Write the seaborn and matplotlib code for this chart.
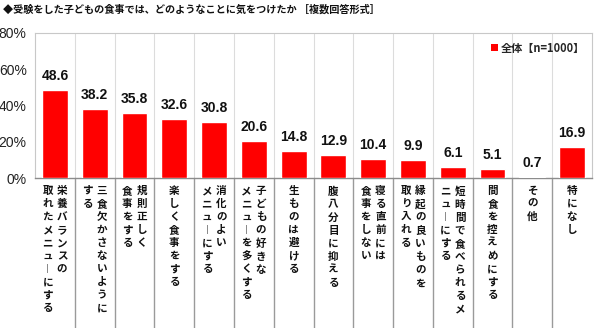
import matplotlib
matplotlib.use("Agg")
import matplotlib.pyplot as plt
import matplotlib.transforms as mtransforms
from matplotlib.patches import Patch
import pandas as pd
import seaborn as sns

title = "◆受験をした子どもの食事では、どのようなことに気をつけたか ［複数回答形式］"
series_name = "全体【n=1000】"
values = [48.6, 38.2, 35.8, 32.6, 30.8, 20.6, 14.8, 12.9, 10.4, 9.9, 6.1, 5.1, 0.7, 16.9]
# category labels, written vertically; columns are read right to left
categories = [
    ["栄養バランスの", "取れたメニューにする"],
    ["三食欠かさないように", "する"],
    ["規則正しく", "食事をする"],
    ["楽しく食事をする"],
    ["消化のよい", "メニューにする"],
    ["子どもの好きな", "メニューを多くする"],
    ["生ものは避ける"],
    ["腹八分目に抑える"],
    ["寝る直前には", "食事をしない"],
    ["縁起の良いものを", "取り入れる"],
    ["短時間で食べられるメ", "ニューにする"],
    ["間食を控えめにする"],
    ["その他"],
    ["特になし"],
]
y_ticks = [0, 20, 40, 60, 80]
y_tick_labels = ["0%", "20%", "40%", "60%", "80%"]

RED = "#FF0000"
JP = ["Noto Sans CJK JP", "DejaVu Sans"]
NUM = ["Liberation Sans", "DejaVu Sans"]

sns.set_theme(style="white")
plt.rcParams["font.family"] = JP

names = ["".join(c) for c in categories]
df = pd.DataFrame({"item": names, "value": values})

fig = plt.figure(figsize=(6.0, 3.28), dpi=100)
ax = fig.add_axes([35 / 600, 1 - 178 / 328, 557 / 600, 145 / 328])

sns.barplot(data=df, x="item", y="value", order=names, color=RED,
            saturation=1, width=0.65, ax=ax, zorder=3)

n = len(names)
ax.set_xlim(-0.5, n - 0.5)
ax.set_ylim(0, 80)
ax.set_yticks(y_ticks)
ax.set_yticklabels(y_tick_labels, family=NUM, fontsize=10, color="#222222")
ax.tick_params(axis="y", length=0, pad=6)
ax.set_xticks([])
ax.set_xlabel("")
ax.set_ylabel("")

# vertical separators between categories inside the plot
for b in range(n - 1):
    ax.axvline(b + 0.5, color="#dcdcdc", lw=0.8, zorder=1)

for side in ["left", "top", "right"]:
    ax.spines[side].set_color("#c8c8c8")
    ax.spines[side].set_linewidth(0.8)
ax.spines["bottom"].set_color("#8c8c8c")
ax.spines["bottom"].set_linewidth(1.0)

# value labels
for i, v in enumerate(values):
    ax.annotate(f"{v:.1f}", xy=(i, v), xytext=(0, 7), textcoords="offset pixels",
                ha="center", va="bottom", family=NUM, fontsize=10,
                fontweight="bold", color="#111111")

# separators below the axis and vertical category text
below = mtransforms.blended_transform_factory(ax.transData, ax.transAxes)
for b in range(n - 1):
    ax.plot([b + 0.5, b + 0.5], [0, -1.2], transform=below, clip_on=False,
            color="#9a9a9a", lw=1.0)


def vertical(s):
    return "\n".join("︱" if ch == "ー" else ch for ch in s)


col_gap = 0.18
for i, cols in enumerate(categories):
    k = len(cols)
    for j, col in enumerate(cols):
        dx = ((k - 1) / 2 - j) * 2 * col_gap
        ax.annotate(vertical(col), xy=(i + dx, 0), xycoords=below,
                    xytext=(0, -8), textcoords="offset pixels",
                    ha="center", va="top", fontsize=7.6, fontweight="bold",
                    linespacing=1.38, color="#111111", annotation_clip=False)

# legend
handle = Patch(facecolor=RED, edgecolor="none")
leg = ax.legend([handle], [series_name], loc="upper right",
                bbox_to_anchor=(1.0, 0.985), frameon=False,
                handlelength=0.6, handleheight=0.6, handletextpad=0.3,
                borderaxespad=0.2, prop={"family": JP, "size": 8, "weight": "bold"})

fig.text(3 / 600, 1 - 10 / 328, title, ha="left", va="center",
         fontsize=7.3, fontweight="bold", color="#111111")

fig.savefig("out.png", dpi=100)
